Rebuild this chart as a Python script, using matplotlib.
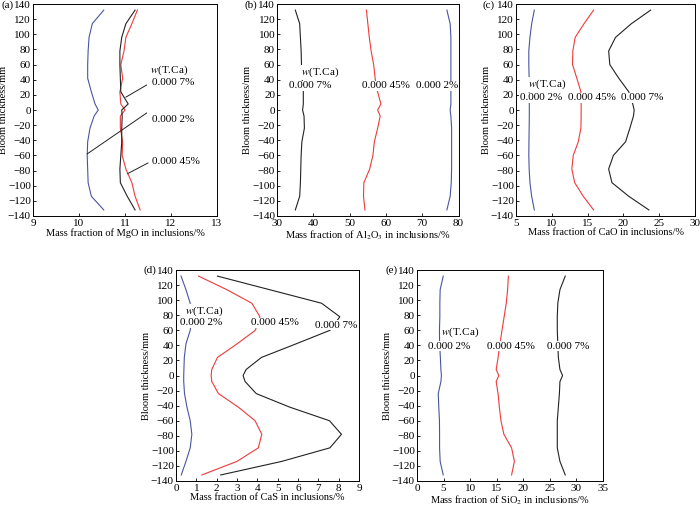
import numpy as np
import matplotlib
matplotlib.use('Agg')
import matplotlib.pyplot as plt

plt.rcParams['font.family'] = ['Liberation Serif', 'DejaVu Serif']
plt.rcParams['mathtext.fontset'] = 'stix'
plt.rcParams['font.size'] = 8

# bloom thickness positions (mm)
thick = [-132, -114, -96, -78, -60, -42, -24, -8, 0, 8, 24, 42, 60, 78, 96, 114, 132]

# (a) MgO
mgo_ca2 = [10.54, 10.27, 10.2, 10.19, 10.18, 10.19, 10.24, 10.33, 10.42, 10.35, 10.27, 10.19, 10.19, 10.2, 10.22, 10.29, 10.54]
mgo_ca45 = [11.33, 11.22, 11.15, 11.02, 10.94, 10.95, 10.9, 10.9, 11.0, 10.91, 10.89, 10.95, 10.91, 10.98, 11.02, 11.15, 11.27]
mgo_ca7 = [11.22, 11.05, 10.9, 10.89, 10.91, 10.93, 10.93, 10.94, 10.93, 11.07, 10.91, 10.9, 10.89, 10.89, 10.93, 11.02, 11.22]

# (b) Al2O3
al_ca2 = [76.8, 77.7, 78.0, 78.1, 78.1, 78.1, 78.1, 77.9, 77.7, 77.9, 77.9, 77.9, 77.9, 77.9, 77.9, 77.7, 76.8]
al_ca45 = [54.2, 53.8, 53.9, 55.5, 56.4, 56.8, 57.7, 58.4, 57.7, 58.6, 57.7, 57.0, 56.6, 55.9, 55.4, 55.0, 54.6]
al_ca7 = [35.0, 36.2, 36.4, 36.5, 36.6, 36.8, 37.5, 37.4, 37.0, 37.2, 37.2, 36.9, 36.7, 36.6, 36.4, 36.2, 35.0]

# (c) CaO
cao_ca2 = [7.57, 7.2, 6.96, 6.85, 6.8, 6.82, 6.85, 6.87, 6.87, 6.87, 6.85, 6.85, 6.8, 6.8, 6.96, 7.2, 7.57]
cao_ca45 = [15.84, 14.4, 13.2, 12.8, 13.0, 13.7, 14.07, 14.1, 14.1, 14.1, 14.07, 13.5, 12.9, 12.94, 13.27, 14.5, 15.84]
cao_ca7 = [23.55, 20.75, 18.4, 17.94, 18.6, 20.3, 20.9, 21.4, 21.5, 21.3, 20.75, 19.35, 18.1, 17.94, 18.9, 21.1, 23.8]

# (d) CaS
cas_ca2 = [0.26, 0.49, 0.7, 0.78, 0.7, 0.54, 0.42, 0.38, 0.38, 0.39, 0.41, 0.49, 0.7, 0.78, 0.7, 0.49, 0.25]
cas_ca45 = [1.27, 3.0, 4.05, 4.22, 3.89, 3.07, 2.09, 1.76, 1.73, 1.76, 2.04, 3.0, 3.9, 4.13, 3.73, 2.5, 1.11]
cas_ca7 = [2.2, 5.2, 7.57, 8.14, 7.55, 5.6, 3.95, 3.4, 3.3, 3.45, 4.2, 5.9, 7.57, 8.06, 7.16, 4.6, 2.04]

# (e) SiO2
si_ca2 = [4.94, 4.36, 4.25, 4.25, 4.23, 4.1, 4.0, 4.5, 4.6, 4.5, 4.4, 4.25, 4.23, 4.3, 4.3, 4.36, 4.94]
si_ca45 = [17.8, 18.33, 17.8, 16.35, 15.8, 15.5, 15.26, 14.9, 15.4, 14.9, 15.26, 15.6, 16.0, 16.4, 16.8, 17.05, 17.2]
si_ca7 = [27.9, 26.9, 26.4, 26.4, 26.4, 26.6, 26.8, 26.9, 27.4, 26.9, 26.6, 26.5, 26.4, 26.4, 26.5, 26.9, 27.9]

blue = '#4a55a2'
red = '#ee3b3b'
black = '#222222'

fig = plt.figure(figsize=(7, 5.07), dpi=100)

def make_axes(rect, xlim, xticks, xlabel):
    ax = fig.add_axes(rect)
    ax.set_xlim(*xlim)
    ax.set_ylim(-140, 140)
    ax.set_xticks(xticks)
    ax.set_yticks(range(-140, 141, 20))
    ax.set_yticklabels([str(v).replace('-', '\u2212') for v in range(-140, 141, 20)])
    ax.tick_params(direction='in', length=2, width=0.6, pad=1.5, labelsize=8)
    ax.tick_params(axis='x', pad=2.5)
    for s in ax.spines.values():
        s.set_linewidth(0.7)
    ax.set_xlabel(xlabel, fontsize=7.5, labelpad=0)
    ax.set_ylabel('Bloom thickness/mm', fontsize=7.5, labelpad=0)
    return ax

def plot_three(ax, a, b, c):
    ax.plot(a, thick, color=blue, lw=0.8)
    ax.plot(b, thick, color=red, lw=0.8)
    ax.plot(c, thick, color=black, lw=0.8)

box = dict(facecolor='white', edgecolor='none', pad=0.5)

# (a)
ax = make_axes([0.047, 0.574, 0.263, 0.418], (9, 13), [9, 10, 11, 12, 13],
               'Mass fraction of MgO in inclusions/%')
plot_three(ax, mgo_ca2, mgo_ca45, mgo_ca7)
ax.text(11.55, 53, '$w$(T.Ca)', ha='left', va='center')
ax.text(11.58, 37, '0.000 7%', ha='left', va='center')
ax.text(11.58, -12, '0.000 2%', ha='left', va='center')
ax.text(11.58, -68, '0.000 45%', ha='left', va='center')
ax.plot([11.47, 11.02], [33, 17], color=black, lw=0.7)
ax.plot([11.47, 10.18], [-4, -58], color=black, lw=0.7)
ax.plot([11.5, 11.06], [-70, -84], color=black, lw=0.7)

# (b)
ax = make_axes([0.396, 0.574, 0.259, 0.418], (30, 80), [30, 40, 50, 60, 70, 80],
               'Mass fraction of Al$_2$O$_3$ in inclusions/%')
plot_three(ax, al_ca2, al_ca45, al_ca7)
ax.text(41.9, 50, '$w$(T.Ca)', ha='center', va='center', bbox=box)
ax.text(39.2, 32, '0.000 7%', ha='center', va='center', bbox=box)
ax.text(59.9, 32, '0.000 45%', ha='center', va='center', bbox=box)
ax.text(74.0, 32, '0.000 2%', ha='center', va='center', bbox=box)

# (c)
ax = make_axes([0.737, 0.574, 0.256, 0.418], (5, 30), [5, 10, 15, 20, 25, 30],
               'Mass fraction of CaO in inclusions/%')
plot_three(ax, cao_ca2, cao_ca45, cao_ca7)
ax.text(9.4, 34, '$w$(T.Ca)', ha='center', va='center', bbox=box)
ax.text(8.5, 16, '0.000 2%', ha='center', va='center', bbox=box)
ax.text(15.6, 16, '0.000 45%', ha='center', va='center', bbox=box)
ax.text(22.6, 16, '0.000 7%', ha='center', va='center', bbox=box)

# (d)
ax = make_axes([0.2514, 0.0513, 0.2614, 0.416], (0, 9), range(0, 10),
               'Mass fraction of CaS in inclusions/%')
plot_three(ax, cas_ca2, cas_ca45, cas_ca7)
ax.text(1.36, 85, '$w$(T.Ca)', ha='center', va='center', bbox=box)
ax.text(1.24, 70, '0.000 2%', ha='center', va='center', bbox=box)
ax.text(4.87, 70, '0.000 45%', ha='center', va='center', bbox=box)
ax.text(7.9, 67, '0.000 7%', ha='center', va='center', bbox=box)

# (e)
ax = make_axes([0.5957, 0.0513, 0.2657, 0.416], (0, 35), range(0, 36, 5),
               'Mass fraction of SiO$_2$ in inclusions/%')
plot_three(ax, si_ca2, si_ca45, si_ca7)
ax.text(8.2, 58, '$w$(T.Ca)', ha='center', va='center', bbox=box)
ax.text(6.1, 39, '0.000 2%', ha='center', va='center', bbox=box)
ax.text(17.6, 39, '0.000 45%', ha='center', va='center', bbox=box)
ax.text(28.4, 39, '0.000 7%', ha='center', va='center', bbox=box)

# panel letters
for lbl, px, py in [('(a)', 1, 5), ('(b)', 245, 5), ('(c)', 483, 5),
                    ('(d)', 143, 270), ('(e)', 386, 270)]:
    fig.text(px / 700, 1 - py / 507, lbl, ha='left', va='center', fontsize=8)

fig.savefig('out.png', dpi=100)
